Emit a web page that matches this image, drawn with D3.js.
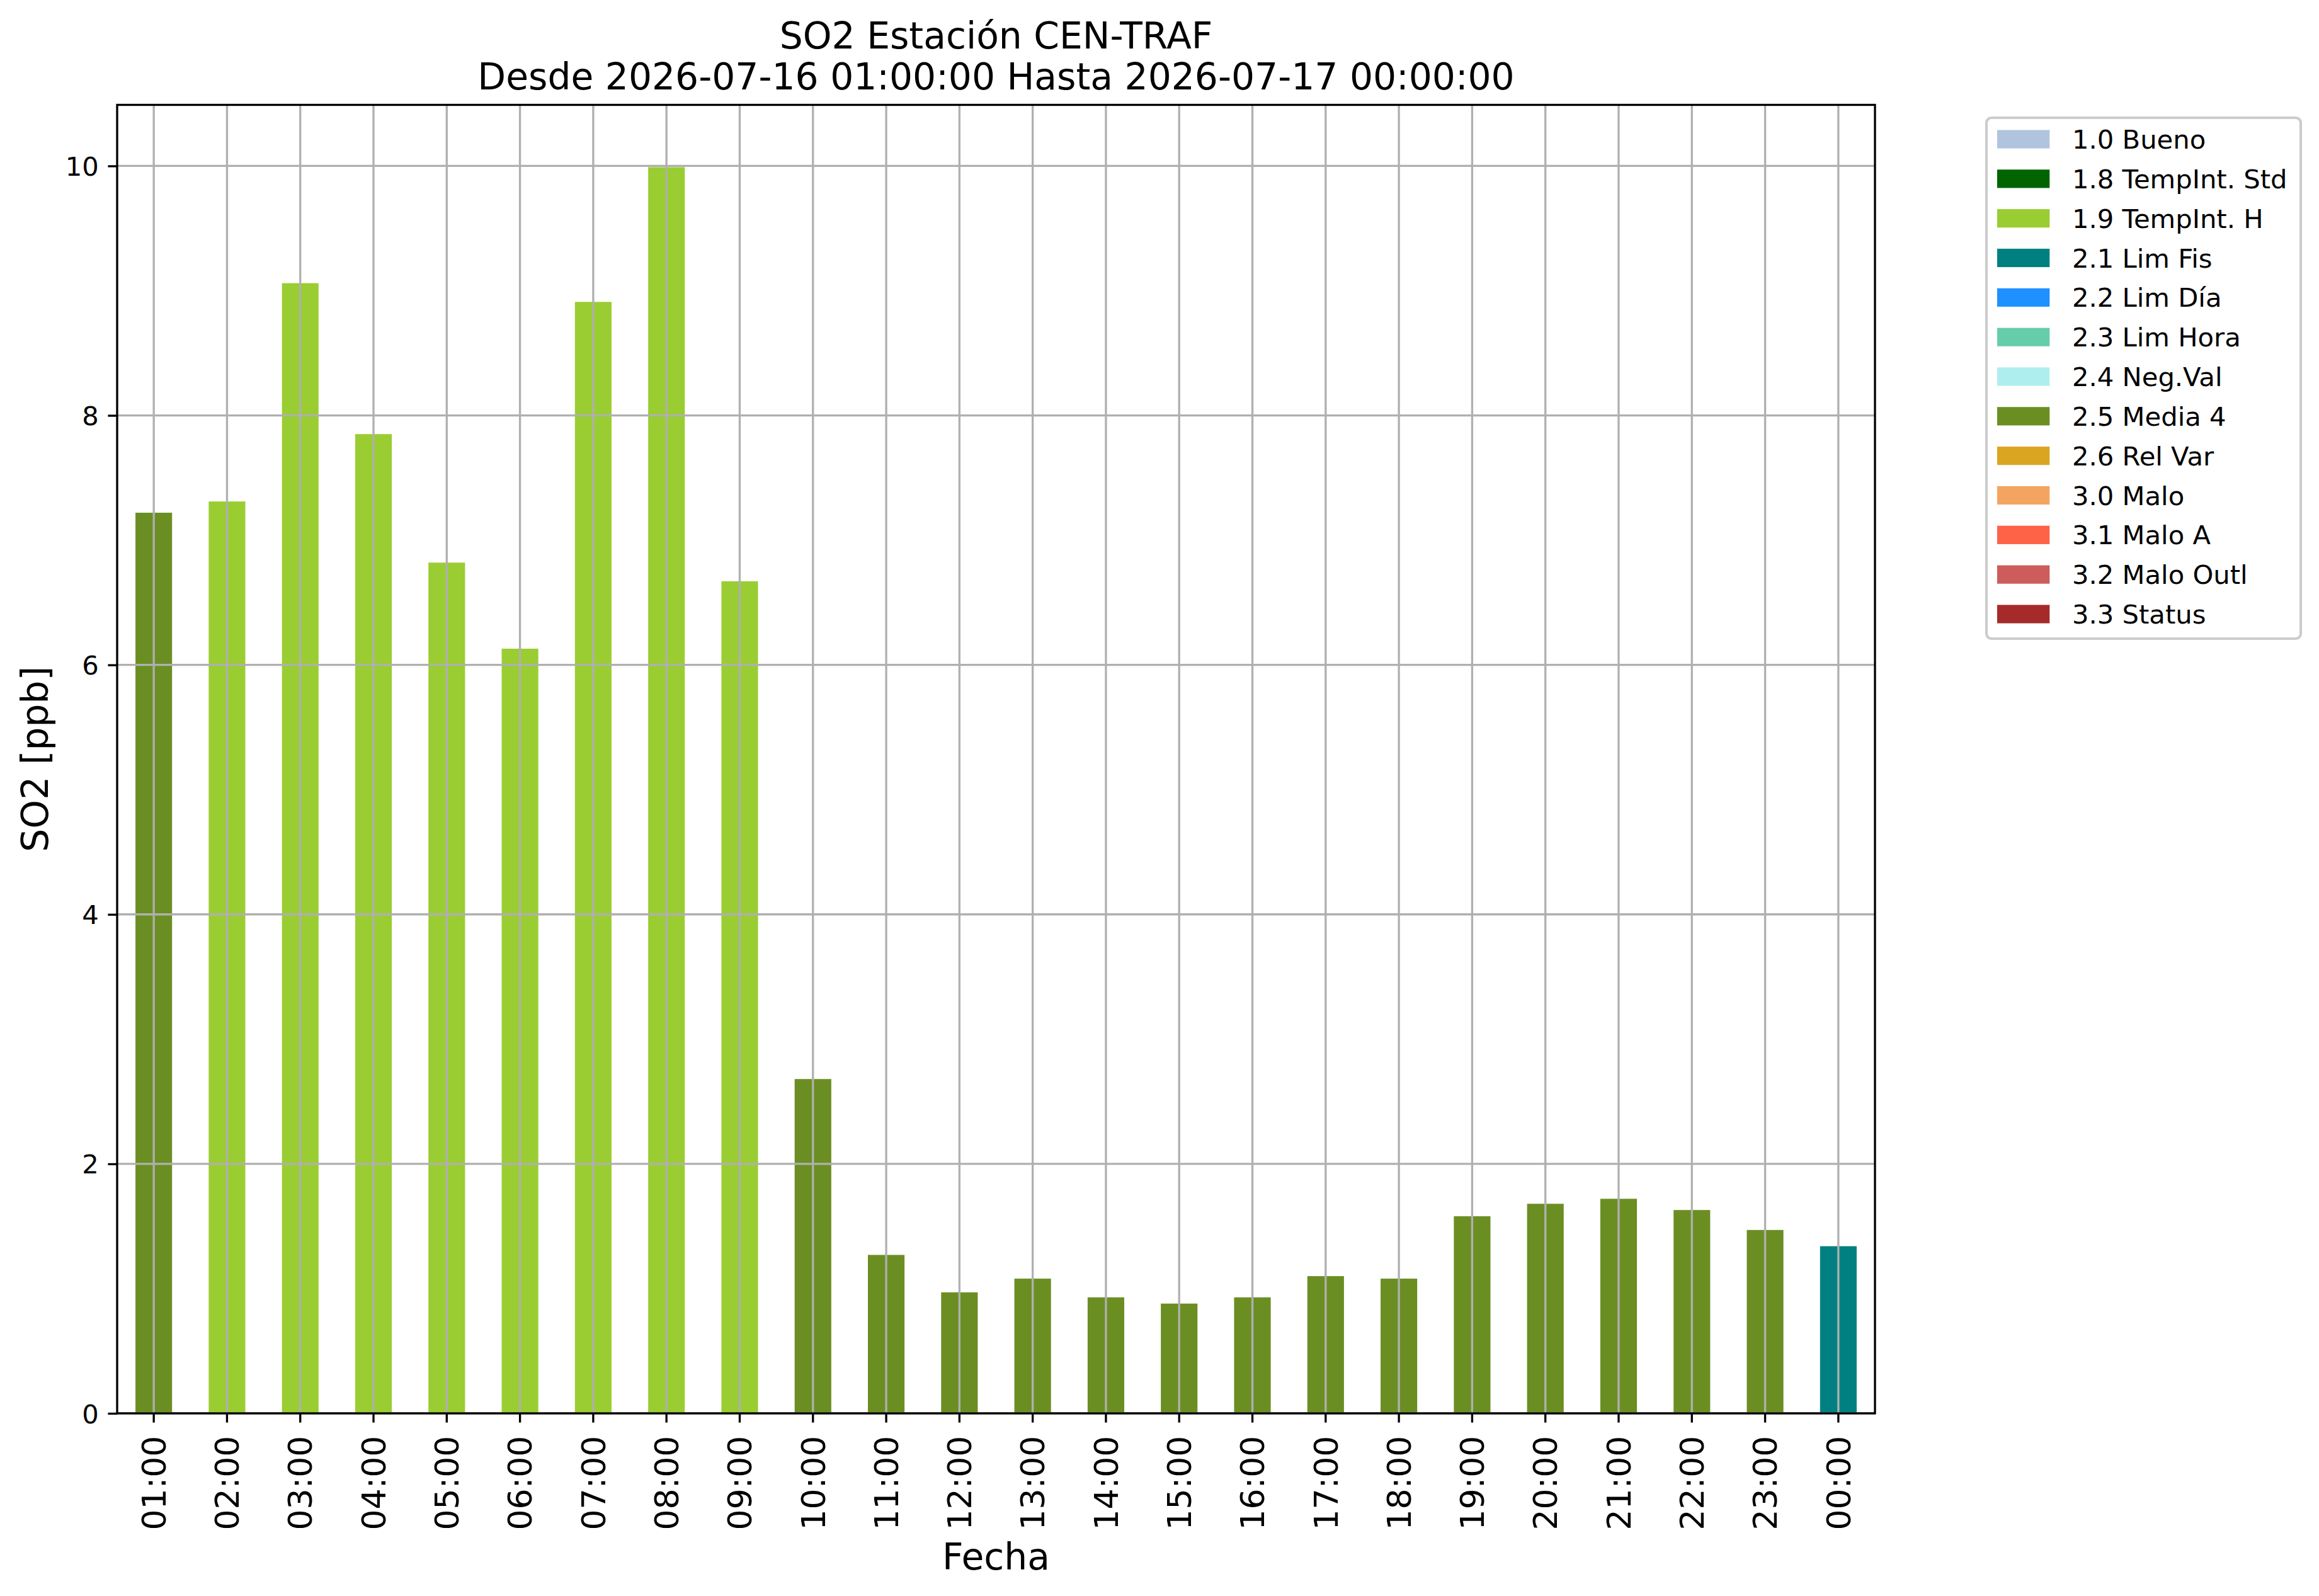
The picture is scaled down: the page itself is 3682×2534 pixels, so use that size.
<!DOCTYPE html>
<html lang="es">
  <head>
    <meta charset="UTF-8" />
    <title>SO2 CEN-TRAF</title>
    <script src="https://cdn.jsdelivr.net/npm/d3@7/dist/d3.min.js"></script>
    <style>
      body { margin: 0; background: #fff; }
      text { font-family: "DejaVu Sans", sans-serif; fill: #000; }
    </style>
  </head>
  <body>
    <div id="wrapper"></div>
    <script>
      // data
      const hours = [
        "01:00", "02:00", "03:00", "04:00", "05:00", "06:00", "07:00", "08:00",
        "09:00", "10:00", "11:00", "12:00", "13:00", "14:00", "15:00", "16:00",
        "17:00", "18:00", "19:00", "20:00", "21:00", "22:00", "23:00", "00:00",
      ];
      const so2 = [
        7.22, 7.31, 9.06, 7.85, 6.82, 6.13, 8.91, 9.99,
        6.67, 2.68, 1.27, 0.97, 1.08, 0.93, 0.88, 0.93,
        1.10, 1.08, 1.58, 1.68, 1.72, 1.63, 1.47, 1.34,
      ];
      // validation flag per hour
      const flags = [
        "2.5", "1.9", "1.9", "1.9", "1.9", "1.9", "1.9", "1.9",
        "1.9", "2.5", "2.5", "2.5", "2.5", "2.5", "2.5", "2.5",
        "2.5", "2.5", "2.5", "2.5", "2.5", "2.5", "2.5", "2.1",
      ];
      const flagCodes = ["1.0", "1.8", "1.9", "2.1", "2.2", "2.3", "2.4", "2.5", "2.6", "3.0", "3.1", "3.2", "3.3"];
      const flagNames = [
        "1.0 Bueno", "1.8 TempInt. Std", "1.9 TempInt. H", "2.1 Lim Fis",
        "2.2 Lim Día", "2.3 Lim Hora", "2.4 Neg.Val", "2.5 Media 4",
        "2.6 Rel Var", "3.0 Malo", "3.1 Malo A", "3.2 Malo Outl", "3.3 Status",
      ];
      const flagColors = [
        "#b0c4de", "#006400", "#9acd32", "#008080", "#1e90ff", "#66cdaa",
        "#afeeee", "#6b8e23", "#daa520", "#f4a460", "#ff6347", "#cd5c5c", "#a52a2a",
      ];
      const yTicks = [0, 2, 4, 6, 8, 10];

      const width = 3682;
      const height = 2534;
      const plot = { left: 186, right: 2977, top: 166.5, bottom: 2244 };
      const grey = "#b0b0b0";
      const lw = 3.33;
      const tickLen = 14.6;

      const svg = d3.select("#wrapper")
        .append("svg")
        .attr("width", width)
        .attr("height", height);

      const color = d3.scaleOrdinal().domain(flagCodes).range(flagColors);

      const xScale = d3.scaleBand()
        .domain(hours)
        .range([plot.left, plot.right])
        .paddingInner(0.5)
        .paddingOuter(0.25);

      const yScale = d3.scaleLinear()
        .domain([0, d3.max(so2) * 1.05])
        .range([plot.bottom, plot.top]);

      // bars
      svg.append("g")
        .selectAll("rect")
        .data(hours)
        .join("rect")
        .attr("x", (d) => xScale(d))
        .attr("width", xScale.bandwidth())
        .attr("y", (d, i) => yScale(so2[i]))
        .attr("height", (d, i) => yScale(0) - yScale(so2[i]))
        .attr("fill", (d, i) => color(flags[i]));

      // grid on top of the bars
      const grid = svg.append("g").attr("stroke", grey).attr("stroke-width", lw);
      grid.selectAll(".gx")
        .data(hours)
        .join("line")
        .attr("x1", (d) => xScale(d) + xScale.bandwidth() / 2)
        .attr("x2", (d) => xScale(d) + xScale.bandwidth() / 2)
        .attr("y1", plot.top)
        .attr("y2", plot.bottom);
      grid.selectAll(".gy")
        .data(yTicks)
        .join("line")
        .attr("x1", plot.left)
        .attr("x2", plot.right)
        .attr("y1", (d) => yScale(d))
        .attr("y2", (d) => yScale(d));

      // axes
      const yAxis = svg.append("g")
        .attr("transform", `translate(${plot.left},0)`)
        .call(d3.axisLeft(yScale).tickValues(yTicks).tickSize(tickLen).tickPadding(tickLen).tickFormat(d3.format("d")));
      yAxis.select(".domain").remove();
      yAxis.selectAll(".tick line").attr("stroke-width", lw);
      yAxis.selectAll(".tick text")
        .attr("font-size", 41.7)
        .attr("font-family", "DejaVu Sans")
        .attr("dy", "0.36em");

      const xAxis = svg.append("g")
        .attr("transform", `translate(0,${plot.bottom})`)
        .call(d3.axisBottom(xScale).tickSize(tickLen));
      xAxis.select(".domain").remove();
      xAxis.selectAll(".tick line").attr("stroke-width", lw);
      xAxis.selectAll(".tick text")
        .attr("font-size", 52)
        .attr("font-family", "DejaVu Sans")
        .attr("text-anchor", "end")
        .attr("x", 0)
        .attr("y", 0)
        .attr("dy", "0.36em")
        .attr("transform", `translate(0,${tickLen + 21}) rotate(-90)`);

      // frame
      svg.append("rect")
        .attr("x", plot.left)
        .attr("y", plot.top)
        .attr("width", plot.right - plot.left)
        .attr("height", plot.bottom - plot.top)
        .attr("fill", "none")
        .attr("stroke", "#000")
        .attr("stroke-width", lw);

      // titles
      const cx = (plot.left + plot.right) / 2;
      svg.append("text")
        .attr("x", cx).attr("y", 76.5)
        .attr("text-anchor", "middle").attr("font-size", 58.3)
        .text("SO2 Estación CEN-TRAF");
      svg.append("text")
        .attr("x", cx).attr("y", 142)
        .attr("text-anchor", "middle").attr("font-size", 58.3)
        .text("Desde 2026-07-16 01:00:00 Hasta 2026-07-17 00:00:00");
      svg.append("text")
        .attr("x", cx).attr("y", 2492)
        .attr("text-anchor", "middle").attr("font-size", 58.3)
        .text("Fecha");
      svg.append("text")
        .attr("transform", `translate(76,${(plot.top + plot.bottom) / 2}) rotate(-90)`)
        .attr("text-anchor", "middle").attr("font-size", 58.3)
        .text("SO2 [ppb]");

      // legend
      const legend = svg.append("g").attr("transform", "translate(3154,187)");
      legend.append("rect")
        .attr("width", 499)
        .attr("height", 827)
        .attr("rx", 8)
        .attr("fill", "#fff")
        .attr("fill-opacity", 0.8)
        .attr("stroke", "#cccccc")
        .attr("stroke-width", 4.17);
      const rowY = d3.scaleLinear().domain([0, flagNames.length - 1]).range([34, 788]);
      const rows = legend.selectAll(".row")
        .data(flagNames)
        .join("g")
        .attr("transform", (d, i) => `translate(0,${rowY(i)})`);
      rows.append("rect")
        .attr("x", 17)
        .attr("y", -14.6)
        .attr("width", 83.3)
        .attr("height", 29.2)
        .attr("fill", (d, i) => flagColors[i]);
      rows.append("text")
        .attr("x", 136)
        .attr("dy", "0.36em")
        .attr("font-size", 41.7)
        .text((d) => d);
    </script>
  </body>
</html>
